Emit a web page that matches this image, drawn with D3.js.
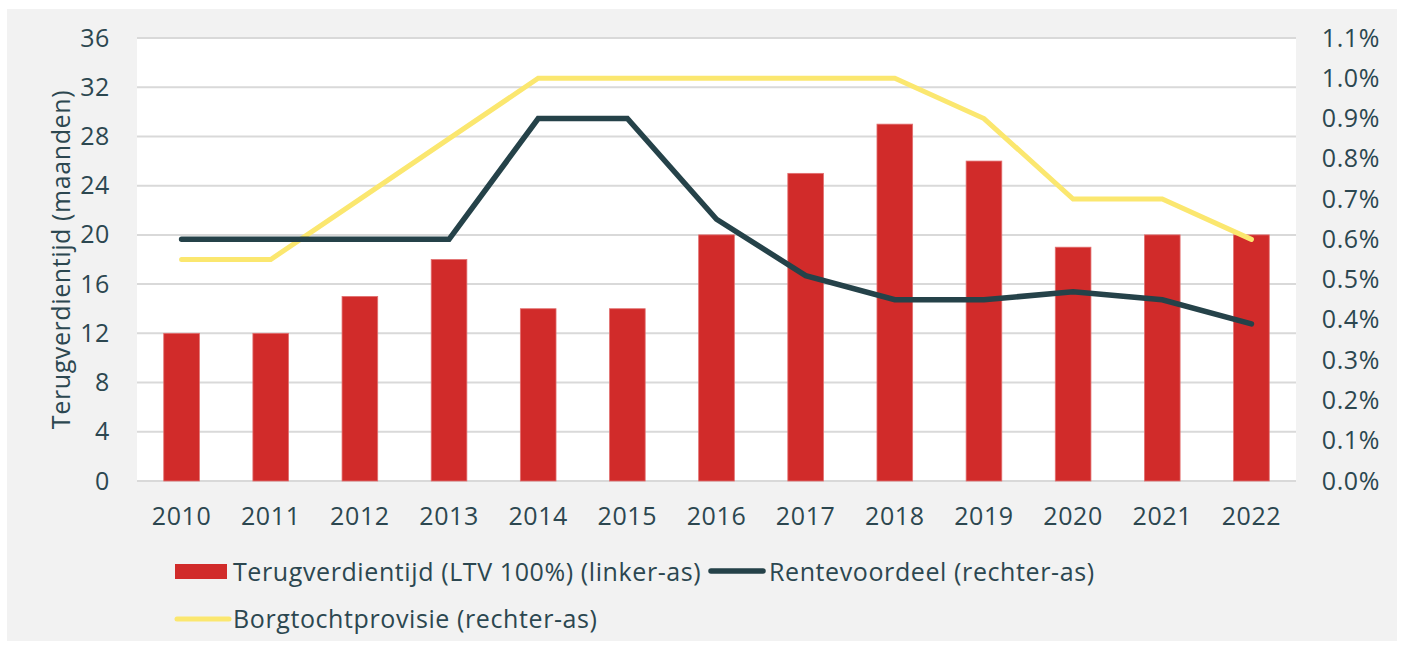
<!DOCTYPE html>
<html>
<head>
<meta charset="utf-8">
<script src="https://cdn.jsdelivr.net/npm/d3@7"></script>
<style>
    body { margin: 0; background: #fff; }
    #chart { width: 1402px; height: 648px; }
    text { font-family: "Open Sans", Lato, sans-serif; fill: #2c4750; }
</style>
</head>
<body>
<div id="chart"></div>
<script>

    /* DATA */
    const years = ["2010", "2011", "2012", "2013", "2014", "2015", "2016", "2017", "2018", "2019", "2020", "2021", "2022"];
    const terugverdientijd = [12, 12, 15, 18, 14, 14, 20, 25, 29, 26, 19, 20, 20];
    const rentevoordeel = [0.60, 0.60, 0.60, 0.60, 0.90, 0.90, 0.65, 0.51, 0.45, 0.45, 0.47, 0.45, 0.39];
    const borgtochtprovisie = [0.55, 0.55, 0.70, 0.85, 1.00, 1.00, 1.00, 1.00, 1.00, 0.90, 0.70, 0.70, 0.60];

    const leftTicks = [0, 4, 8, 12, 16, 20, 24, 28, 32, 36];
    const rightTicks = [0, 0.1, 0.2, 0.3, 0.4, 0.5, 0.6, 0.7, 0.8, 0.9, 1.0, 1.1];

    const width = 1402;
    const height = 648;
    const margin = { left: 137, right: 106, top: 38, bottom: 167 };

    const svg = d3.select("#chart")
        .append("svg")
        .attr("width", width)
        .attr("height", height);

    // grey card behind everything
    svg.append("rect")
        .attr("x", 7).attr("y", 9)
        .attr("width", 1390).attr("height", 632)
        .attr("fill", "#f2f2f2");

    /* SCALES */
    const x = d3.scaleBand()
        .domain(years)
        .range([margin.left, width - margin.right])
        .paddingInner(0.6)
        .paddingOuter(0.3);

    const yLeft = d3.scaleLinear()
        .domain([0, 36])
        .range([height - margin.bottom, margin.top]);

    const yRight = d3.scaleLinear()
        .domain([0, 1.1])
        .range([height - margin.bottom, margin.top]);

    // white plot area
    svg.append("rect")
        .attr("x", margin.left).attr("y", margin.top)
        .attr("width", width - margin.left - margin.right)
        .attr("height", height - margin.top - margin.bottom)
        .attr("fill", "#ffffff");

    /* GRIDLINES */
    svg.append("g")
        .selectAll("line")
        .data(leftTicks)
        .enter()
        .append("line")
            .attr("x1", margin.left)
            .attr("x2", width - margin.right)
            .attr("y1", d => yLeft(d))
            .attr("y2", d => yLeft(d))
            .attr("stroke", "#d9d9d9")
            .attr("stroke-width", 2);

    /* AXES */
    const leftAxis = svg.append("g")
        .attr("transform", `translate(110,0)`)
        .call(d3.axisLeft(yLeft).tickValues(leftTicks).tickSize(0).tickPadding(0));

    const rightAxis = svg.append("g")
        .attr("transform", `translate(1380,0)`)
        .call(d3.axisLeft(yRight).tickValues(rightTicks).tickSize(0).tickPadding(0)
            .tickFormat(d => d3.format(".1f")(d) + "%"));

    const bottomAxis = svg.append("g")
        .attr("transform", `translate(0,${height - margin.bottom + 35})`)
        .call(d3.axisBottom(x).tickSize(0).tickPadding(0));

    [leftAxis, rightAxis, bottomAxis].forEach(a => {
        a.select(".domain").remove();
        a.selectAll("text")
            .style("font-size", "25px")
            .style("letter-spacing", "0.6px")
            .attr("fill", "#2c4750");
    });
    bottomAxis.selectAll("text").attr("dy", "0.35em");

    // y axis title
    svg.append("text")
        .attr("transform", `translate(61,${(margin.top + height - margin.bottom) / 2}) rotate(-90)`)
        .attr("text-anchor", "middle")
        .attr("dy", "0.35em")
        .style("font-size", "25px")
        .style("letter-spacing", "0.6px")
        .text("Terugverdientijd (maanden)");

    /* BARS */
    svg.append("g")
        .selectAll("rect")
        .data(terugverdientijd)
        .enter()
        .append("rect")
            .attr("x", (d, i) => x(years[i]))
            .attr("y", d => yLeft(d))
            .attr("width", x.bandwidth())
            .attr("height", d => yLeft(0) - yLeft(d))
            .attr("fill", "#d12b2a")
            .attr("stroke", "#e27070")
            .attr("stroke-width", 0.8);

    /* LINES */
    const line = d3.line()
        .x((d, i) => x(years[i]) + x.bandwidth() / 2)
        .y(d => yRight(d));

    svg.append("path")
        .datum(borgtochtprovisie)
        .attr("d", line)
        .attr("fill", "none")
        .attr("stroke", "#fbe76f")
        .attr("stroke-width", 5)
        .attr("stroke-linecap", "round");

    svg.append("path")
        .datum(rentevoordeel)
        .attr("d", line)
        .attr("fill", "none")
        .attr("stroke", "#254249")
        .attr("stroke-width", 5.5)
        .attr("stroke-linecap", "round");

    /* LEGEND */
    const legend = svg.append("g")
        .style("font-size", "25px")
        .style("letter-spacing", "0.6px");

    legend.append("rect")
        .attr("x", 175).attr("y", 564)
        .attr("width", 52).attr("height", 15)
        .attr("fill", "#d12b2a");
    legend.append("text")
        .attr("x", 233).attr("y", 572).attr("dy", "0.35em")
        .text("Terugverdientijd (LTV 100%) (linker-as)");

    legend.append("line")
        .attr("x1", 711).attr("x2", 763)
        .attr("y1", 571).attr("y2", 571)
        .attr("stroke", "#254249")
        .attr("stroke-width", 5.5)
        .attr("stroke-linecap", "round");
    legend.append("text")
        .attr("x", 769).attr("y", 572).attr("dy", "0.35em")
        .text("Rentevoordeel (rechter-as)");

    legend.append("line")
        .attr("x1", 177).attr("x2", 229)
        .attr("y1", 619).attr("y2", 619)
        .attr("stroke", "#fbe76f")
        .attr("stroke-width", 5)
        .attr("stroke-linecap", "round");
    legend.append("text")
        .attr("x", 233).attr("y", 619).attr("dy", "0.35em")
        .text("Borgtochtprovisie (rechter-as)");

</script>
</body>
</html>
